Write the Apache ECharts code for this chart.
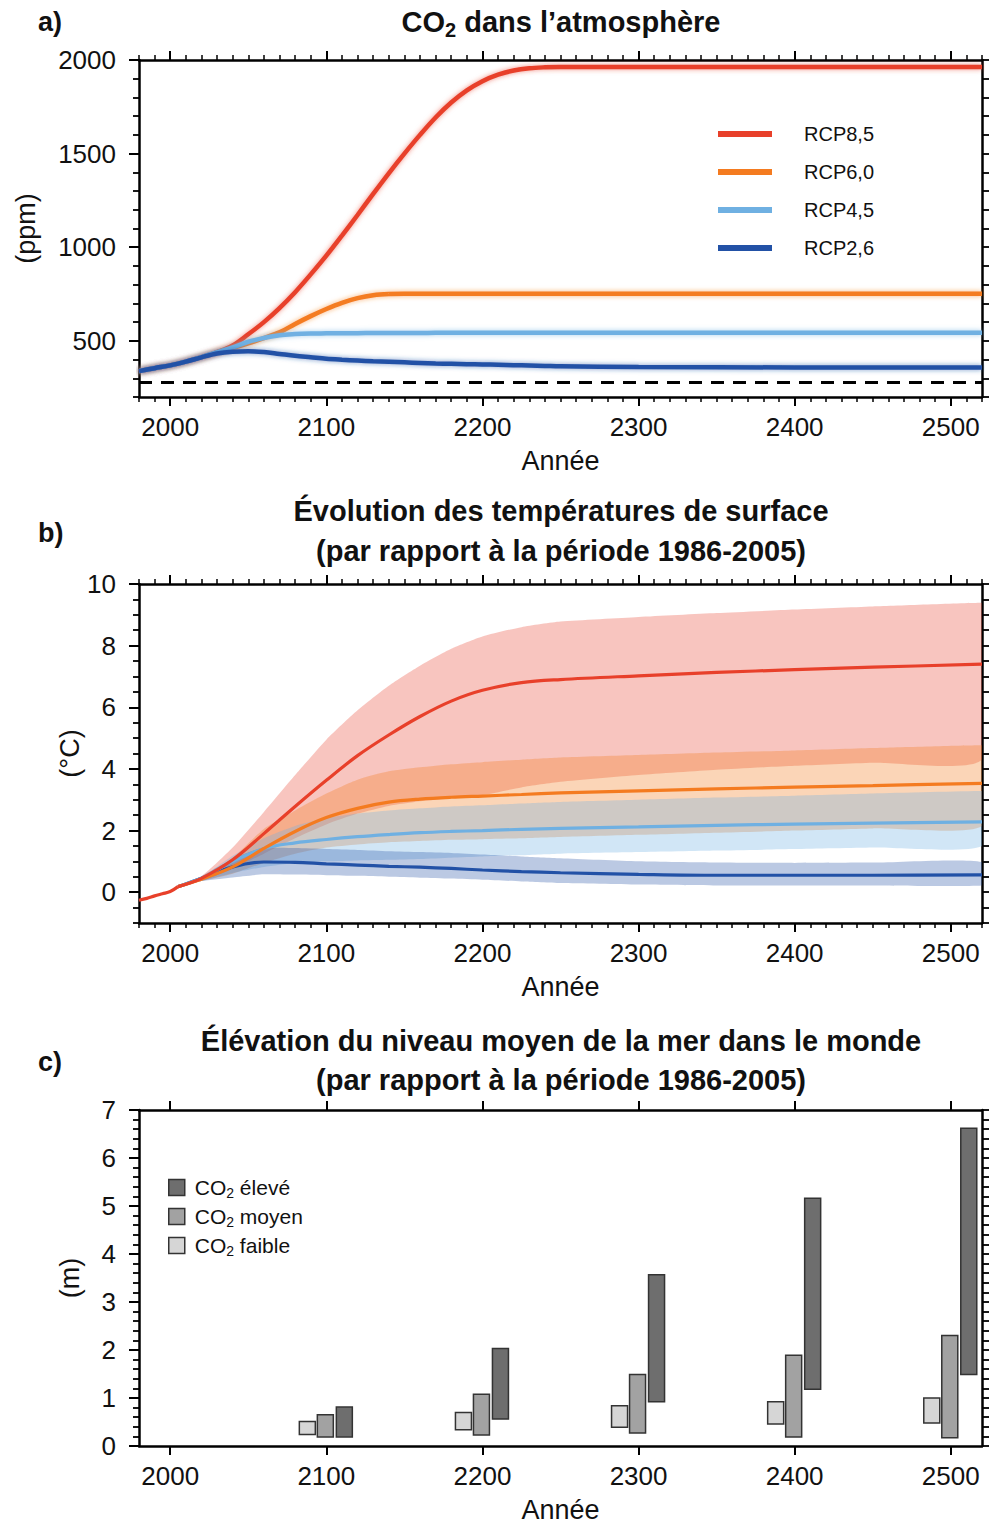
<!DOCTYPE html>
<html><head><meta charset="utf-8">
<script src="https://cdn.jsdelivr.net/npm/echarts@6/dist/echarts.min.js"></script>
<style>html,body{margin:0;padding:0;background:#fff}#c{width:993px;height:1524px}</style>
</head><body><div id="c"></div>
<script>
// ---------- Panel a: CO2 (ppm) ----------
const co2Years = [1980,1990,2000,2010,2020,2030,2040,2050,2060,2070,2080,2090,2100,2110,2120,2130,2140,2150,2160,2170,2180,2190,2200,2210,2220,2230,2240,2250,2300,2400,2520];
const co2RCP85 = [338,354,369,389,413,440,475,535,600,675,760,855,955,1062,1172,1285,1395,1500,1600,1693,1773,1838,1887,1922,1944,1956,1961,1963,1963,1963,1963];
const co2RCP60 = [338,354,369,389,413,440,462,487,515,545,590,632,670,703,728,744,750,751,751,751,751,751,751,751,751,751,751,751,751,751,751];
const co2RCP45 = [338,354,369,389,413,440,465,495,515,530,536,539,540,541,541,542,542,542,542,543,543,543,543,543,543,543,543,543,543,543,543];
const co2RCP26 = [338,354,369,389,412,432,442,445,440,430,420,412,404,399,395,391,388,385,382,379,377,375,374,372,370,368,366,364,360,358,357];
const preindustrialCO2 = 278;

// ---------- Panel b: temperature (°C) ----------
const histYears = [1980,1985,1990,1995,2000,2005];
const histTemp  = [-0.26,-0.2,-0.12,-0.05,0.02,0.18];
const tYears = [2005,2020,2040,2060,2080,2100,2120,2140,2160,2180,2200,2225,2250,2300,2350,2400,2450,2520];
const t85   = [0.18,0.45,1.05,1.9,2.78,3.63,4.43,5.1,5.7,6.2,6.55,6.8,6.9,7.02,7.13,7.22,7.3,7.4];
const t85Hi = [0.18,0.52,1.45,2.6,3.8,4.95,5.9,6.7,7.35,7.9,8.3,8.6,8.78,8.93,9.06,9.17,9.27,9.39];
const t85Lo = [0.18,0.36,0.75,1.25,1.75,2.2,2.55,2.8,2.95,3.05,3.15,3.4,3.58,3.8,3.97,4.1,4.2,4.31];
const t60   = [0.18,0.42,0.82,1.42,1.97,2.42,2.72,2.92,3.02,3.08,3.12,3.17,3.22,3.29,3.35,3.41,3.46,3.53];
const t60Hi = [0.18,0.48,1.12,2.05,2.65,3.2,3.65,3.92,4.05,4.15,4.22,4.3,4.37,4.45,4.53,4.6,4.68,4.77];
const t60Lo = [0.18,0.36,0.6,0.95,1.25,1.45,1.55,1.62,1.66,1.7,1.72,1.75,1.79,1.86,1.93,2.0,2.07,2.15];
const t45   = [0.18,0.45,1.0,1.42,1.6,1.71,1.8,1.87,1.93,1.97,2.0,2.04,2.07,2.12,2.17,2.21,2.24,2.28];
const t45Hi = [0.18,0.48,1.18,1.75,2.15,2.4,2.55,2.65,2.72,2.78,2.82,2.88,2.93,3.0,3.07,3.13,3.2,3.28];
const t45Lo = [0.18,0.36,0.62,0.82,0.95,1.0,1.03,1.05,1.08,1.12,1.16,1.2,1.25,1.3,1.35,1.4,1.45,1.5];
const t26   = [0.18,0.45,0.82,0.98,0.97,0.92,0.88,0.84,0.81,0.77,0.72,0.67,0.63,0.58,0.55,0.55,0.55,0.56];
const t26Hi = [0.18,0.52,1.08,1.45,1.43,1.4,1.37,1.33,1.3,1.27,1.22,1.16,1.1,1.0,0.96,0.95,0.96,0.98];
const t26Lo = [0.18,0.36,0.48,0.58,0.57,0.55,0.53,0.5,0.47,0.44,0.4,0.35,0.3,0.25,0.22,0.22,0.22,0.22];

// ---------- Panel c: sea level (m) ----------
const slrYears = [2100,2200,2300,2400,2500];
const slrLowLo  = [0.24,0.34,0.39,0.46,0.48];
const slrLowHi  = [0.51,0.70,0.84,0.92,1.00];
const slrMedLo  = [0.19,0.23,0.27,0.19,0.17];
const slrMedHi  = [0.65,1.08,1.49,1.89,2.30];
const slrHighLo = [0.19,0.56,0.92,1.18,1.49];
const slrHighHi = [0.81,2.03,3.57,5.16,6.62];

// ---------- tick labels ----------
const yearTicks = [2000,2100,2200,2300,2400,2500];
const ppmTicks = [500,1000,1500,2000];
const tempTicks = [0,2,4,6,8,10];
const slrTicks = [0,1,2,3,4,5,6,7];

const SANS = "'Liberation Sans',Arial,sans-serif";
const TXT = '#111';
const C85 = '#e8402a', C60 = '#f47b20', C45 = '#6fb0e2', C26 = '#2251a6';

const chart = echarts.init(document.getElementById('c'), null, {renderer:'svg', width:993, height:1524});

const AXL = {show:true, onZero:false, lineStyle:{color:'#000', width:2.5}};
const NOAXL = {show:false, onZero:false};
const labelStyle = {fontFamily:SANS, fontSize:26, color:TXT, formatter: v => String(v)};
const nameStyle = {fontFamily:SANS, fontSize:27, color:TXT};

function xAxes(grid, minor) {
  const base = {type:'value', gridIndex:grid, min:1980, max:2520, interval:20, splitLine:{show:false}};
  const list = [
    Object.assign({}, base, {position:'bottom', axisLine:AXL,
      axisTick:{show:true, customValues:yearTicks, length:9, lineStyle:{color:'#000', width:2}},
      axisLabel:Object.assign({show:true, customValues:yearTicks, margin:17}, labelStyle),
      name:'Année', nameLocation:'middle', nameGap:50, nameMoveOverlap:false, nameTextStyle:nameStyle}),
    Object.assign({}, base, {position:'top', axisLine:AXL,
      axisTick:{show:true, customValues:yearTicks, length:9, lineStyle:{color:'#000', width:2}},
      axisLabel:{show:false}})
  ];
  if (minor) {
    list.push(Object.assign({}, base, {position:'bottom', interval:10, axisLine:NOAXL,
      axisTick:{show:true, length:5, lineStyle:{color:'#000', width:1.5}}, axisLabel:{show:false}}));
    list.push(Object.assign({}, base, {position:'top', interval:10, axisLine:NOAXL,
      axisTick:{show:true, length:5, lineStyle:{color:'#000', width:1.5}}, axisLabel:{show:false}}));
  }
  return list;
}
function yAxes(grid, min, max, minorInt, majorVals, name, nameGap) {
  const base = {type:'value', gridIndex:grid, min, max, splitLine:{show:false}};
  return [
    Object.assign({}, base, {position:'left', interval:minorInt, axisLine:AXL,
      axisTick:{show:true, customValues:majorVals, length:10, lineStyle:{color:'#000', width:2}},
      axisLabel:Object.assign({show:true, customValues:majorVals, margin:23}, labelStyle),
      name, nameLocation:'middle', nameRotate:90, nameGap, nameMoveOverlap:false, nameTextStyle:nameStyle}),
    Object.assign({}, base, {position:'left', interval:minorInt, axisLine:NOAXL,
      axisTick:{show:true, length:6, lineStyle:{color:'#000', width:1.8}}, axisLabel:{show:false}}),
    Object.assign({}, base, {position:'right', interval:minorInt, axisLine:AXL,
      axisTick:{show:true, length:7, lineStyle:{color:'#000', width:1.8}}, axisLabel:{show:false}})
  ];
}

const xAxis = [].concat(xAxes(0,true), xAxes(1,true), xAxes(2,false)); // a:0-3, b:4-7, c:8-9
const yAxis = [].concat(
  yAxes(0, 200, 2000, 100, ppmTicks, '(ppm)', 100),
  yAxes(1, -1, 10, 0.5, tempTicks, '(°C)', 56),
  yAxes(2, 0, 7, 0.2, slrTicks, '(m)', 56)
); // a:0-2, b:3-5, c:6-8

function co2Line(name, vals, color) {
  return {type:'line', name, color, xAxisIndex:0, yAxisIndex:0, showSymbol:false, smooth:0.35,
    data: co2Years.map((y,i)=>[y, vals[i]]), z:3, silent:true,
    lineStyle:{width:4.5, color, shadowBlur:5, shadowColor:color + '99'}};
}
function tLine(name, xs, vals, color) {
  return {type:'line', name, color, xAxisIndex:4, yAxisIndex:3, showSymbol:false, smooth:0.35,
    data: xs.map((y,i)=>[y, vals[i]]), z:4, silent:true, lineStyle:{width:3.2, color}};
}
function band(name, lo, hi, color, opacity) {
  return {type:'custom', name, xAxisIndex:4, yAxisIndex:3, silent:true, z:2, clip:true,
    data:[[tYears[0], lo[0]]],
    renderItem(params, api) {
      const pts = [];
      for (let i=0;i<tYears.length;i++) pts.push(api.coord([tYears[i], hi[i]]));
      for (let i=tYears.length-1;i>=0;i--) pts.push(api.coord([tYears[i], lo[i]]));
      let x0=Infinity,y0=Infinity,x1=-Infinity,y1=-Infinity;
      pts.forEach(p=>{x0=Math.min(x0,p[0]);y0=Math.min(y0,p[1]);x1=Math.max(x1,p[0]);y1=Math.max(y1,p[1]);});
      return {type:'polygon', shape:{points:pts, smooth:0.2, smoothConstraint:[[x0,y0],[x1,y1]]}, style:{fill:color, opacity}};
    }};
}
function slrBar(name, lo, hi, color, off) {
  return {type:'custom', name, xAxisIndex:8, yAxisIndex:6, silent:true, z:3,
    itemStyle:{color, borderColor:'#333', borderWidth:1.5},
    data: slrYears.map((y,i)=>[y, lo[i], hi[i]]),
    encode:{x:0, y:[1,2]},
    renderItem(params, api) {
      const a = api.coord([api.value(0), api.value(1)]);
      const b = api.coord([api.value(0), api.value(2)]);
      return {type:'rect', shape:{x:a[0]+off-8, y:b[1], width:16, height:a[1]-b[1]},
        style:{fill:color, stroke:'#333', lineWidth:1.5}};
    }};
}

const pre = co2Line('RCP8,5', co2RCP85, C85);
pre.markLine = {silent:true, symbol:'none', label:{show:false},
  lineStyle:{type:[13,9], color:'#000', width:3}, data:[{yAxis:preindustrialCO2}]};

const series = [
  pre,
  co2Line('RCP6,0', co2RCP60, C60),
  co2Line('RCP4,5', co2RCP45, C45),
  co2Line('RCP2,6', co2RCP26, C26),
  band('b85', t85Lo, t85Hi, C85, 0.3),
  band('b60', t60Lo, t60Hi, C60, 0.32),
  band('b45', t45Lo, t45Hi, C45, 0.32),
  band('b26', t26Lo, t26Hi, C26, 0.31),
  tLine('t26', tYears, t26, C26),
  tLine('t45', tYears, t45, C45),
  tLine('t60', tYears, t60, C60),
  tLine('t85', tYears, t85, C85),
  tLine('hist', histYears, histTemp, C85),
  slrBar('CO₂ faible', slrLowLo, slrLowHi, '#d6d6d6', -19),
  slrBar('CO₂ moyen', slrMedLo, slrMedHi, '#a2a2a2', -1),
  slrBar('CO₂ élevé', slrHighLo, slrHighHi, '#6e6e6e', 18)
];

function title(x, y, text) {
  return {type:'text', x, y, silent:true, style:{text, fill:TXT, align:'center', verticalAlign:'middle',
    font:`bold 29px ${SANS}`,
    rich:{n:{fontFamily:SANS, fontWeight:'bold', fontSize:29, fill:TXT},
          s:{fontFamily:SANS, fontWeight:'bold', fontSize:20, fill:TXT, padding:[16,0,0,0]}}}};
}
const letter = (y, t) => ({type:'text', x:38, y, silent:true, style:{text:t, fill:TXT, verticalAlign:'middle', font:`bold 27px ${SANS}`}});

chart.setOption({
  animation:false,
  backgroundColor:'#fff',
  grid:[
    {left:139, top:60, width:843, height:337},
    {left:139, top:584, width:843, height:339},
    {left:139, top:1110, width:843, height:339}
  ],
  xAxis, yAxis, series,
  legend:[
    {data:['RCP8,5','RCP6,0','RCP4,5','RCP2,6'], orient:'vertical', left:718, top:121, padding:0, icon:'rect',
     itemWidth:54, itemHeight:6, itemGap:12, selectedMode:false,
     textStyle:{fontFamily:SANS, fontSize:20, color:TXT, lineHeight:26, padding:[0,0,0,27]}},
    {data:['CO₂ élevé','CO₂ moyen','CO₂ faible'], orient:'vertical', left:168, top:1175, padding:0, icon:'rect',
     itemWidth:16, itemHeight:16, itemGap:4, selectedMode:false,
     itemStyle:{borderColor:'#333', borderWidth:1.5},
     formatter: n => '{n|CO}{s|2}{n|' + n.slice(3) + '}',
     textStyle:{fontFamily:SANS, fontSize:21, color:TXT, lineHeight:25, padding:[0,0,0,5],
       rich:{n:{fontFamily:SANS, fontSize:21, color:TXT}, s:{fontFamily:SANS, fontSize:14, color:TXT, padding:[11,0,0,0]}}}}
  ],
  graphic:[
    letter(22, 'a)'), letter(533, 'b)'), letter(1062, 'c)'),
    title(561, 22, '{n|CO}{s|2}{n| dans l’atmosphère}'),
    title(561, 511, 'Évolution des températures de surface'),
    title(561, 551, '(par rapport à la période 1986-2005)'),
    title(561, 1041, 'Élévation du niveau moyen de la mer dans le monde'),
    title(561, 1080, '(par rapport à la période 1986-2005)')
  ]
});
</script></body></html>
